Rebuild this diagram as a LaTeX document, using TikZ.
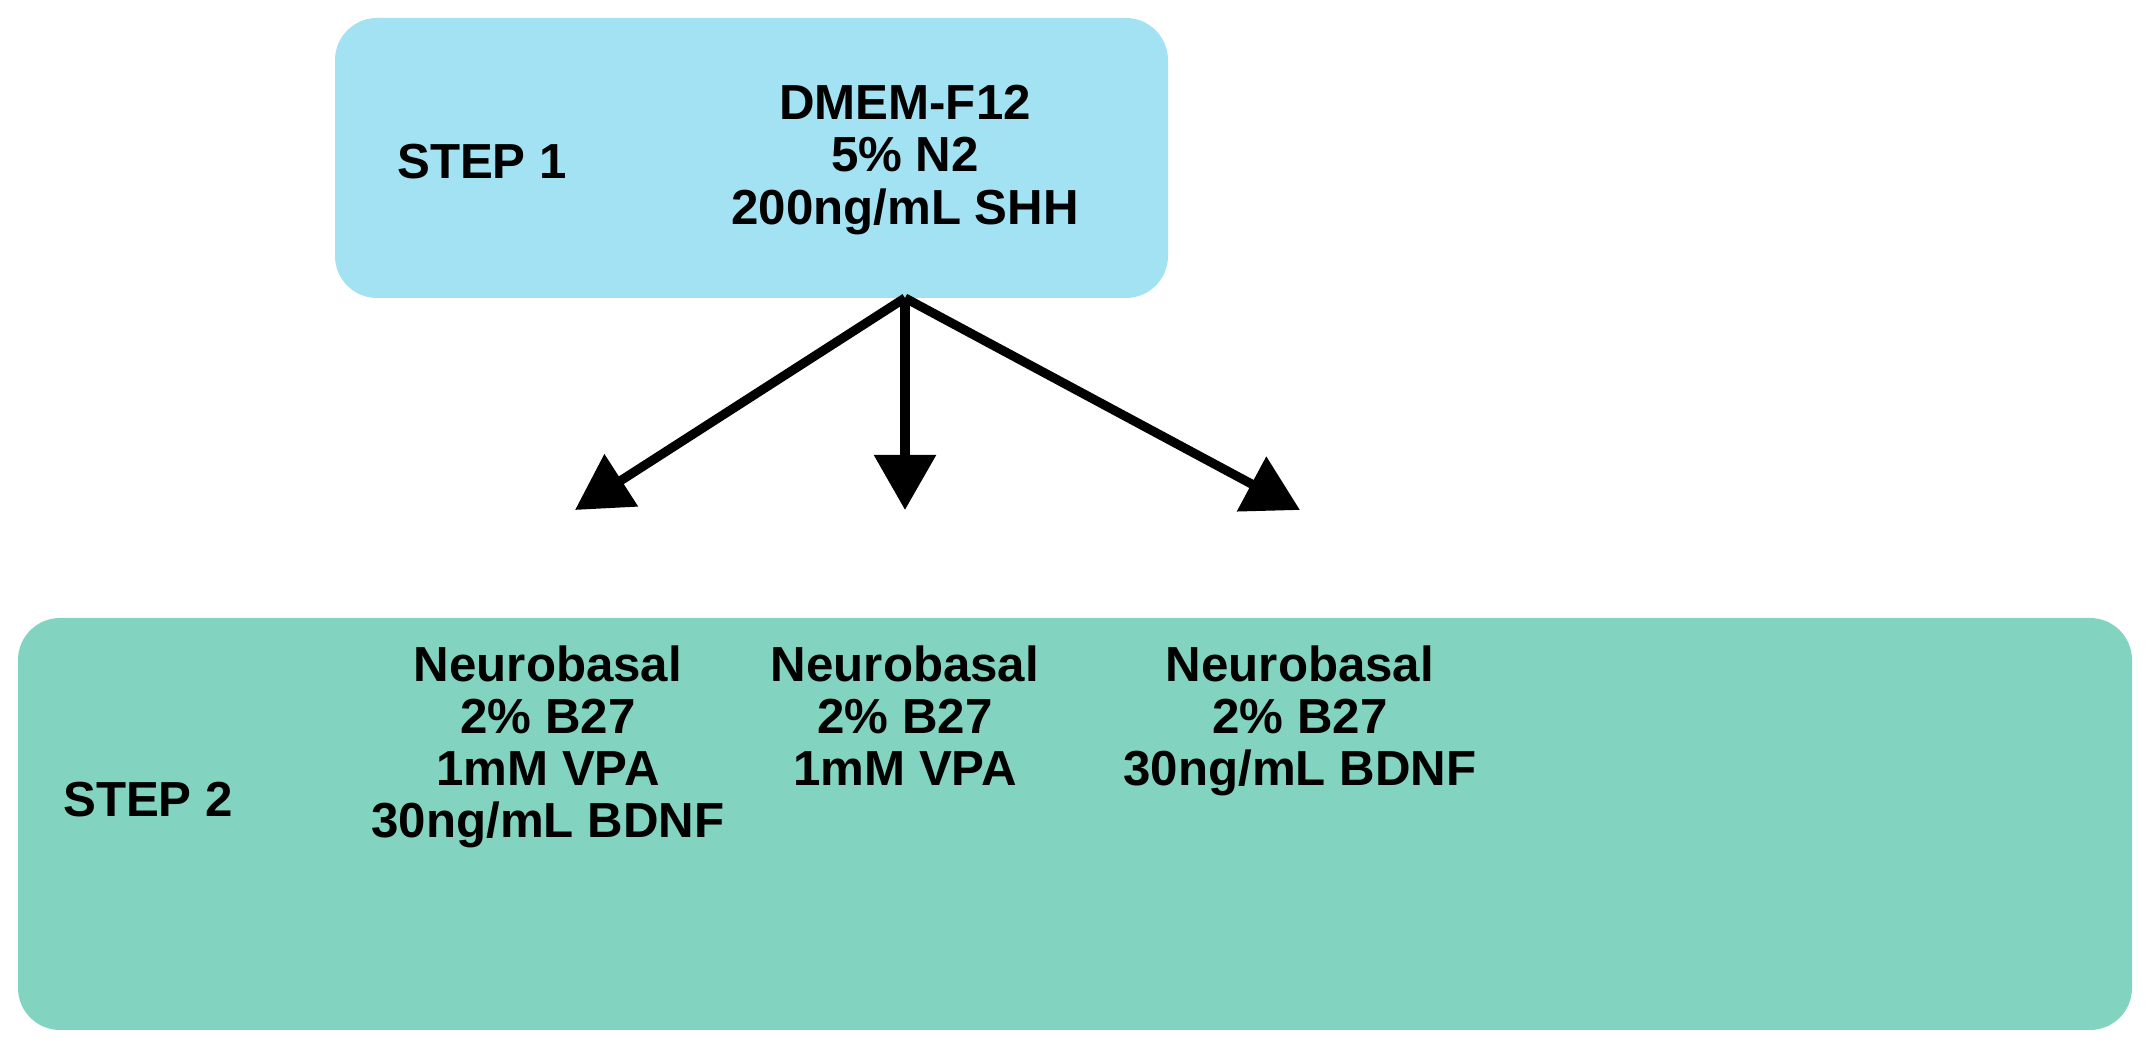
\documentclass[tikz,border=0pt]{standalone}
\usepackage{fontspec}
\setmainfont{Liberation Sans}
\usetikzlibrary{arrows.meta}
\definecolor{topc}{HTML}{A3E2F2}
\definecolor{botc}{HTML}{82D3C0}
\begin{document}
\begin{tikzpicture}[x=0.01cm,y=-0.01cm,
  box/.style={rounded corners=0.42cm,draw=none},
  lbl/.style={font=\fontsize{14}{14.8}\selectfont\bfseries,align=center,inner sep=0},
  arr/.style={line width=2.6pt,-{Triangle[length=0.55cm,width=0.6cm]}}]
\useasboundingbox (0,0) rectangle (2150,1055);
\fill[box,topc] (335,18) rectangle (1168,298);
\fill[box,botc] (18,618) rectangle (2132,1030);
\node[lbl] (s1) at (482,162) {STEP 1};
\node[lbl] (t1) at (905,160) {DMEM-F12\\5\% N2\\200ng/mL SHH};
\coordinate (src) at (905,298);
\node[lbl] (s2) at (148,800) {STEP 2};
\node[lbl,anchor=north] (c1) at (548,645) {Neurobasal\\2\% B27\\1mM VPA\\30ng/mL BDNF};
\node[lbl,anchor=north] (c2) at (905,645) {Neurobasal\\2\% B27\\1mM VPA};
\node[lbl,anchor=north] (c3) at (1300,645) {Neurobasal\\2\% B27\\30ng/mL BDNF};
\coordinate (e1) at (575,510);
\coordinate (e2) at (905,510);
\coordinate (e3) at (1300,510);
\draw[arr] (src) -- (e1);
\draw[arr] (src) -- (e2);
\draw[arr] (src) -- (e3);
\end{tikzpicture}
\end{document}
